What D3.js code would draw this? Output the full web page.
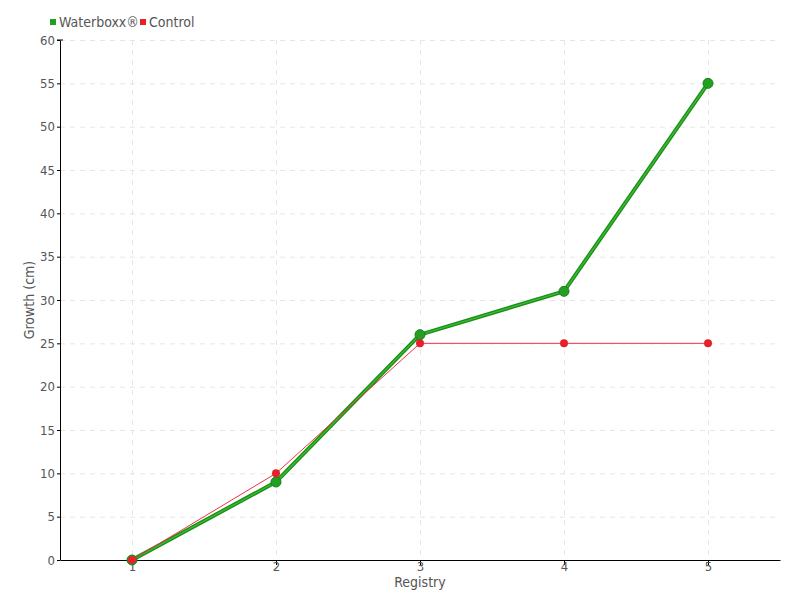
<!DOCTYPE html>
<html>
<head>
<meta charset="utf-8">
<script src="https://cdn.jsdelivr.net/npm/d3@7"></script>
<style>
  body { margin: 0; background: #fff; }
  text { font-family: "DejaVu Sans Condensed", "Liberation Sans Narrow", sans-serif; fill: #555; }
  .grid line { stroke: #e6e6e6; stroke-dasharray: 5,5; }
  .grid path { display: none; }
  .axis path, .axis line { stroke: #000; }
</style>
</head>
<body>
<div class="chart"></div>
<script>
var registry = [1, 2, 3, 4, 5];
var waterboxx = [0, 9, 26, 31, 55];
var control = [0, 10, 25, 25, 25];
var yTicks = [0, 5, 10, 15, 20, 25, 30, 35, 40, 45, 50, 55, 60];

var svgWidth = 800;
var svgHeight = 600;
var margin = { top: 40, right: 20, bottom: 40, left: 60 };
var width = svgWidth - margin.left - margin.right;
var height = svgHeight - margin.top - margin.bottom;

var svg = d3.select(".chart")
  .append("svg")
    .attr("width", svgWidth)
    .attr("height", svgHeight);

var chart = svg.append("g")
    .attr("transform", "translate(" + margin.left + "," + margin.top + ")");

var x = d3.scalePoint().domain(registry).range([0, width]).padding(0.5);
var y = d3.scaleLinear().domain([0, 60]).range([height, 0]);

// grid
chart.append("g")
    .attr("class", "grid")
    .call(d3.axisLeft(y).tickValues(yTicks.slice(1)).tickSize(-width).tickFormat(""));
chart.append("g")
    .attr("class", "grid")
    .call(d3.axisBottom(x).tickSize(height).tickFormat(""));

// axes
var yAxis = chart.append("g")
    .attr("class", "axis")
    .call(d3.axisLeft(y).tickValues(yTicks).tickSize(3).tickSizeOuter(0));
yAxis.selectAll("text").style("font-size", "13px").attr("x", -5);
yAxis.append("line").attr("x1", -3).attr("x2", 3).attr("y1", 0).attr("y2", 0).attr("stroke", "#000");

var xAxis = chart.append("g")
    .attr("class", "axis")
    .attr("transform", "translate(0," + height + ")")
    .call(d3.axisBottom(x).tickSize(5).tickSizeOuter(0));
xAxis.selectAll("text").style("font-size", "13px").attr("y", 2).attr("dy", "0.71em");

// axis labels
svg.append("text")
    .attr("transform", "translate(34," + (margin.top + height / 2) + ") rotate(-90)")
    .attr("text-anchor", "middle")
    .style("font-size", "14px")
    .text("Growth (cm)");
svg.append("text")
    .attr("x", margin.left + width / 2)
    .attr("y", 587)
    .attr("text-anchor", "middle")
    .style("font-size", "14px")
    .text("Registry");

var line = d3.line()
    .x(function(d, i) { return x(registry[i]); })
    .y(function(d) { return y(d); });

// Waterboxx series
chart.append("path")
    .datum(waterboxx)
    .attr("d", line)
    .attr("fill", "none")
    .attr("stroke", "#1b8f1b")
    .attr("stroke-width", 4);
chart.append("path")
    .datum(waterboxx)
    .attr("d", line)
    .attr("fill", "none")
    .attr("stroke", "#3fbf2f")
    .attr("stroke-width", 1.2);
chart.selectAll(".wb")
    .data(waterboxx)
    .enter().append("circle")
    .attr("cx", function(d, i) { return x(registry[i]); })
    .attr("cy", function(d) { return y(d); })
    .attr("r", 5)
    .attr("fill", "#22a022")
    .attr("stroke", "#1a7f1a")
    .attr("stroke-width", 1);

// Control series
chart.append("path")
    .datum(control)
    .attr("d", line)
    .attr("fill", "none")
    .attr("stroke", "#ee3340")
    .attr("stroke-width", 1);
chart.selectAll(".ct")
    .data(control)
    .enter().append("circle")
    .attr("cx", function(d, i) { return x(registry[i]); })
    .attr("cy", function(d) { return y(d); })
    .attr("r", 4)
    .attr("fill", "#e8202a");

// legend
var legend = svg.append("g").attr("transform", "translate(50,22)");
legend.append("rect").attr("x", 0).attr("y", -3).attr("width", 6).attr("height", 6).attr("fill", "#22a022");
legend.append("text").attr("x", 9).attr("y", 5).style("font-size", "14px").text("Waterboxx®");
legend.append("rect").attr("x", 90).attr("y", -3).attr("width", 6).attr("height", 6).attr("fill", "#e8202a");
legend.append("text").attr("x", 99).attr("y", 5).style("font-size", "14px").text("Control");
</script>
</body>
</html>
